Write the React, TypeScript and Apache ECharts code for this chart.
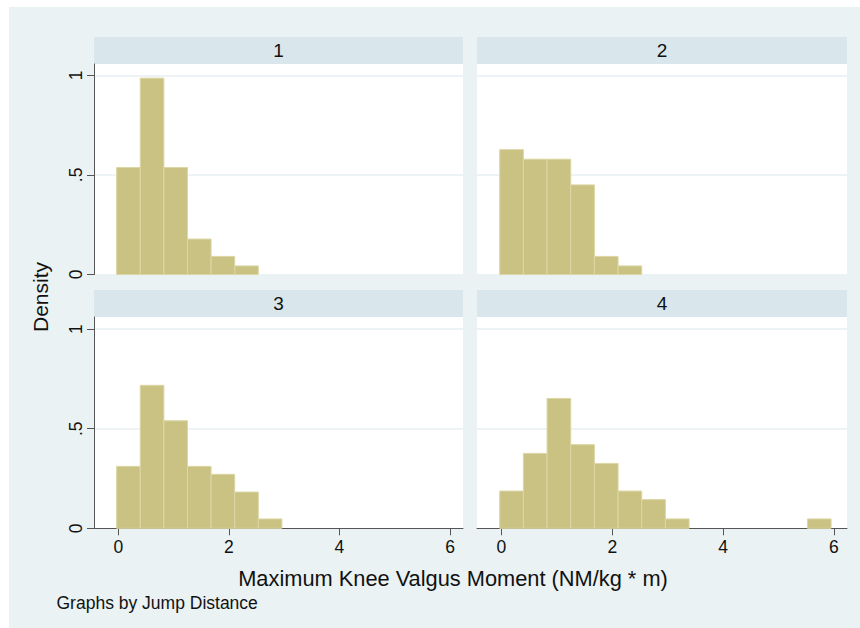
import React, { useEffect, useRef } from "react";
import * as echarts from "echarts";

// ---- data ----
const panelTitles = ["1", "2", "3", "4"];
const binStart = -0.03;
const binWidth = 0.427;
const density1 = [0.537, 0.986, 0.537, 0.178, 0.091, 0.043];
const density2 = [0.627, 0.579, 0.579, 0.45, 0.091, 0.043];
const density3 = [0.311, 0.718, 0.54, 0.311, 0.271, 0.182, 0.047];
const density4 = [0.187, 0.376, 0.652, 0.42, 0.326, 0.187, 0.144, 0.047, 0, 0, 0, 0, 0, 0.047];
const xTicks = [0, 2, 4, 6];
const yTicks = [0, 0.5, 1];
const yTickLabels = ["0", ".5", "1"];
const xTitle = "Maximum Knee Valgus Moment (NM/kg * m)";
const yTitle = "Density";
const note = "Graphs by Jump Distance";

const OX = 9;
const OY = 7;
const FONT = "'Liberation Sans', Arial, Helvetica, sans-serif";
const BAR_FILL = "#C9C283";
const BAR_STROKE = "#DCD6A4";
const BG = "#EAF2F3";
const STRIP = "#D9E6EB";
const AXIS = "#555555";

const allDensities = [density1, density2, density3, density4];

function toBins(d: number[]) {
  const out: number[][] = [];
  d.forEach((h, i) => {
    if (h > 0) out.push([binStart + i * binWidth, binStart + (i + 1) * binWidth, h]);
  });
  return out;
}

export default function App() {
  const ref = useRef<HTMLDivElement>(null);
  useEffect(() => {
    if (!ref.current) return;
    const chart = echarts.init(ref.current, null, { renderer: "svg" });

    const panels = [
      { left: 94, top: 64, width: 369, height: 210.5, ymax: 1.057, showY: true, showX: false },
      { left: 477, top: 64, width: 370, height: 210.5, ymax: 1.057, showY: false, showX: false },
      { left: 94, top: 317, width: 369, height: 211.3, ymax: 1.061, showY: true, showX: true },
      { left: 477, top: 317, width: 370, height: 211.3, ymax: 1.061, showY: false, showX: true },
    ];

    const grid = panels.map((p) => ({
      left: p.left - OX,
      top: p.top - OY,
      width: p.width,
      height: p.height,
      show: true,
      backgroundColor: "#ffffff",
      borderWidth: 0,
    }));

    const xAxis = panels.map((p, i) => ({
      type: "value",
      gridIndex: i,
      min: -0.44,
      max: 6.235,
      show: p.showX,
      axisLine: { show: true, onZero: false, lineStyle: { color: AXIS, width: 1 } },
      axisTick: { show: true, length: 7, customValues: xTicks, lineStyle: { color: AXIS } },
      axisLabel: {
        show: true,
        customValues: xTicks,
        margin: 10,
        fontSize: 17.5,
        fontFamily: FONT,
        color: "#111",
      },
      splitLine: { show: false },
    }));

    const yAxis = panels.map((p, i) => ({
      type: "value",
      gridIndex: i,
      min: 0,
      max: p.ymax,
      interval: 0.5,
      show: true,
      axisLine: { show: p.showY, onZero: false, lineStyle: { color: AXIS, width: 1 } },
      axisTick: { show: p.showY, length: 7, customValues: yTicks, lineStyle: { color: AXIS } },
      axisLabel: {
        show: p.showY,
        customValues: yTicks,
        rotate: 90,
        margin: 9,
        fontSize: 17.5,
        fontFamily: FONT,
        color: "#111",
        formatter: (v: number) => {
          const k = yTicks.indexOf(Math.round(v * 100) / 100);
          return k >= 0 ? yTickLabels[k] : "";
        },
      },
      splitLine: { show: true, lineStyle: { color: "#E8F0F3", width: 1.5 } },
    }));

    const series = allDensities.map((d, i) => ({
      type: "custom",
      xAxisIndex: i,
      yAxisIndex: i,
      data: toBins(d),
      encode: { x: [0, 1], y: 2 },
      renderItem: (params: any, api: any) => {
        const p0 = api.coord([api.value(0), api.value(2)]);
        const p1 = api.coord([api.value(1), 0]);
        return {
          type: "rect",
          shape: { x: p0[0], y: p0[1], width: p1[0] - p0[0], height: p1[1] - p0[1] },
          style: { fill: BAR_FILL, stroke: BAR_STROKE, lineWidth: 1 },
        };
      },
    }));

    const strips: any[] = [];
    panels.forEach((p, i) => {
      strips.push({
        type: "rect",
        shape: { x: p.left - OX, y: p.top - 27 - OY, width: p.width, height: 27 },
        style: { fill: STRIP },
      });
      strips.push({
        type: "text",
        x: p.left - OX + p.width / 2,
        y: p.top - 14 - OY,
        style: {
          text: panelTitles[i],
          fontSize: 19,
          fontFamily: FONT,
          fill: "#111",
          textAlign: "center",
          textVerticalAlign: "middle",
        },
      });
    });

    chart.setOption({
      animation: false,
      backgroundColor: BG,
      grid,
      xAxis,
      yAxis,
      series,
      graphic: [
        ...strips,
        {
          type: "text",
          x: 40 - OX,
          y: 297 - OY,
          rotation: Math.PI / 2,
          style: {
            text: yTitle,
            fontSize: 21,
            fontFamily: FONT,
            fill: "#111",
            textAlign: "center",
            textVerticalAlign: "middle",
          },
        },
        {
          type: "text",
          x: 453 - OX,
          y: 578.5 - OY,
          style: {
            text: xTitle,
            fontSize: 21.8,
            fontFamily: FONT,
            fill: "#111",
            textAlign: "center",
            textVerticalAlign: "middle",
          },
        },
        {
          type: "text",
          x: 56.5 - OX,
          y: 603 - OY,
          style: {
            text: note,
            fontSize: 17.5,
            fontFamily: FONT,
            fill: "#111",
            textAlign: "left",
            textVerticalAlign: "middle",
          },
        },
      ],
    });

    return () => chart.dispose();
  }, []);

  return (
    <div
      ref={ref}
      style={{ position: "absolute", left: OX, top: OY, width: 860 - OX, height: 628 - OY }}
    />
  );
}
